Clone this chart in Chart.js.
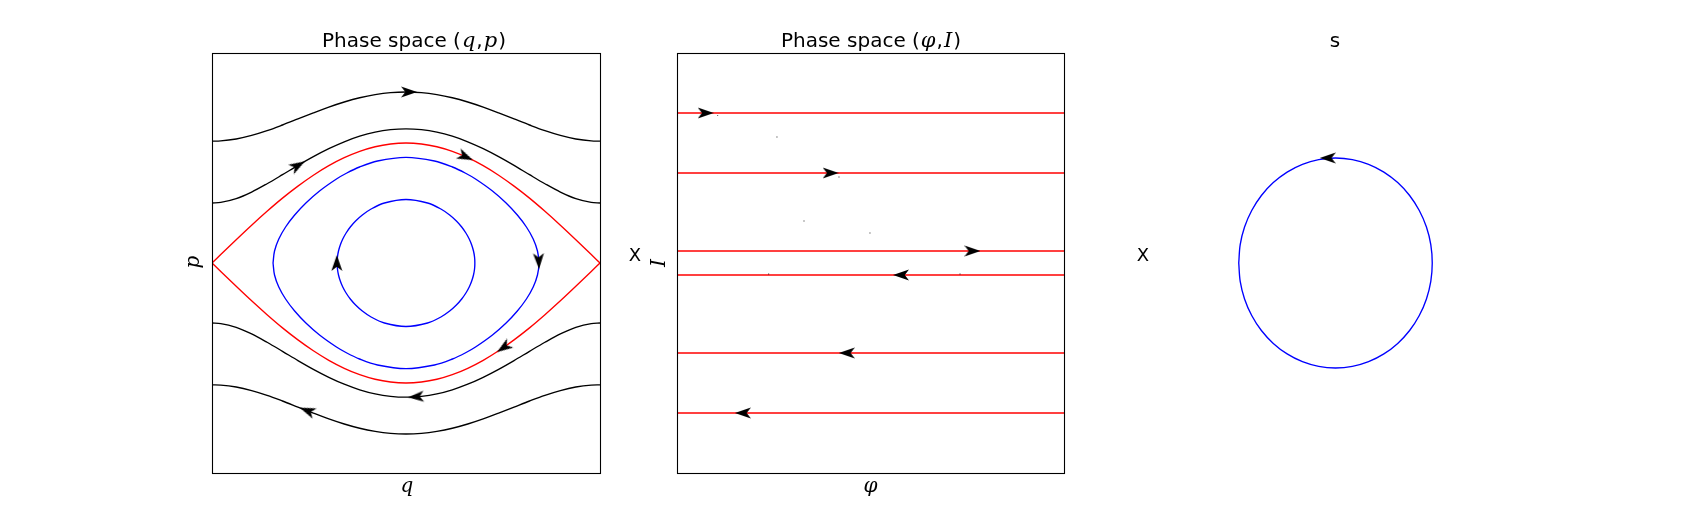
<!DOCTYPE html>
<html><head><meta charset="utf-8">
<script src="https://cdn.jsdelivr.net/npm/chart.js@4.4.1/dist/chart.umd.min.js"></script>
<style>
html,body{margin:0;padding:0;background:#fff;width:1698px;height:525px;overflow:hidden;position:relative;font-family:"DejaVu Sans",sans-serif;color:#000}
canvas{position:absolute;left:0;top:0}
.h{position:absolute;white-space:nowrap;font-size:18px;line-height:18px;transform:translateX(-50%)}
.t{position:absolute;white-space:nowrap;font-size:20px;line-height:20px;transform:translateX(-50%)}
.m{font-family:"DejaVu Serif",serif;font-style:italic;font-size:21px;padding:0 1px}
.lab{position:absolute;white-space:nowrap;font-family:"DejaVu Serif",serif;font-style:italic;font-size:20px;line-height:20px}
.hl{transform:translateX(-50%)}
.r{transform:translate(-50%,-50%) rotate(-90deg)}
</style></head><body>
<canvas id="c1" width="1698" height="525"></canvas>
<canvas id="c2" width="1698" height="525"></canvas>
<canvas id="c3" width="1698" height="525"></canvas>

<div class="t" style="left:414px;top:29.6px">Phase space (<span class="m">q</span>,<span class="m">p</span>)</div>
<div class="t" style="left:871px;top:29.6px">Phase space (<span class="m">φ</span>,<span class="m">I</span>)</div>
<div class="t" style="left:1335px;top:29.6px">s</div>
<div class="lab hl" style="left:407px;top:475px">q</div>
<div class="lab hl" style="left:870.5px;top:475px">φ</div>
<div class="lab r" style="left:191.5px;top:262px">p</div>
<div class="lab r" style="left:657.5px;top:263px">I</div>
<div class="h" style="left:635px;top:246px">X</div>
<div class="h" style="left:1143px;top:246px">X</div>

<script>
// ---------- Panel 1 : phase space (q,p) ----------
const phaseQ       = [-3.1416,-3,-2.75,-2.5,-2.25,-2,-1.75,-1.5,-1.25,-1,-0.75,-0.5,-0.25,0,0.25,0.5,0.75,1,1.25,1.5,1.75,2,2.25,2.5,2.75,3,3.1416];
const pOuterTop    = [2.030,2.035,2.067,2.126,2.205,2.300,2.401,2.502,2.598,2.683,2.754,2.806,2.839,2.850,2.839,2.806,2.754,2.683,2.598,2.502,2.401,2.300,2.205,2.126,2.067,2.035,2.030];
const pInnerTop    = [1.000,1.010,1.073,1.182,1.321,1.472,1.626,1.772,1.905,2.020,2.113,2.181,2.222,2.236,2.222,2.181,2.113,2.020,1.905,1.772,1.626,1.472,1.321,1.182,1.073,1.010,1.000];
const pInnerBottom = [-1.000,-1.010,-1.073,-1.182,-1.321,-1.472,-1.626,-1.772,-1.905,-2.020,-2.113,-2.181,-2.222,-2.236,-2.222,-2.181,-2.113,-2.020,-1.905,-1.772,-1.626,-1.472,-1.321,-1.182,-1.073,-1.010,-1.000];
const pOuterBottom = [-2.030,-2.035,-2.067,-2.126,-2.205,-2.300,-2.401,-2.502,-2.598,-2.683,-2.754,-2.806,-2.839,-2.850,-2.839,-2.806,-2.754,-2.683,-2.598,-2.502,-2.401,-2.300,-2.205,-2.126,-2.067,-2.035,-2.030];

const sepQ      = [-3.1416,-3,-2.75,-2.5,-2.25,-2,-1.75,-1.5,-1.25,-1,-0.75,-0.5,-0.25,0,0.25,0.5,0.75,1,1.25,1.5,1.75,2,2.25,2.5,2.75,3,3.1416];
const sepTop    = [0,0.141,0.389,0.631,0.862,1.081,1.281,1.463,1.622,1.755,1.861,1.938,1.984,2.000,1.984,1.938,1.861,1.755,1.622,1.463,1.281,1.081,0.862,0.631,0.389,0.141,0];
const sepBottom = [0,-0.141,-0.389,-0.631,-0.862,-1.081,-1.281,-1.463,-1.622,-1.755,-1.861,-1.938,-1.984,-2.000,-1.984,-1.938,-1.861,-1.755,-1.622,-1.463,-1.281,-1.081,-0.862,-0.631,-0.389,-0.141,0];

const loopSmallQ = [-1.115,-1.110,-1.093,-1.064,-1.024,-0.970,-0.902,-0.816,-0.707,-0.565,-0.349,0,0.349,0.565,0.707,0.816,0.902,0.970,1.024,1.064,1.093,1.110,1.115,
                    1.110,1.093,1.064,1.024,0.970,0.902,0.816,0.707,0.565,0.349,0,-0.349,-0.565,-0.707,-0.816,-0.902,-0.970,-1.024,-1.064,-1.093,-1.110,-1.115];
const loopSmallP = [0,0.1,0.2,0.3,0.4,0.5,0.6,0.7,0.8,0.9,1.0,1.058,1.0,0.9,0.8,0.7,0.6,0.5,0.4,0.3,0.2,0.1,0,
                    -0.1,-0.2,-0.3,-0.4,-0.5,-0.6,-0.7,-0.8,-0.9,-1.0,-1.058,-1.0,-0.9,-0.8,-0.7,-0.6,-0.5,-0.4,-0.3,-0.2,-0.1,0];
const loopBigQ = [-2.153,-2.129,-2.060,-1.950,-1.803,-1.621,-1.400,-1.126,-0.958,-0.752,-0.461,0,0.461,0.752,0.958,1.126,1.400,1.621,1.803,1.950,2.060,2.129,2.153,
                  2.129,2.060,1.950,1.803,1.621,1.400,1.126,0.958,0.752,0.461,0,-0.461,-0.752,-0.958,-1.126,-1.400,-1.621,-1.803,-1.950,-2.060,-2.129,-2.153];
const loopBigP = [0,0.2,0.4,0.6,0.8,1.0,1.2,1.4,1.5,1.6,1.7,1.761,1.7,1.6,1.5,1.4,1.2,1.0,0.8,0.6,0.4,0.2,0,
                  -0.2,-0.4,-0.6,-0.8,-1.0,-1.2,-1.4,-1.5,-1.6,-1.7,-1.761,-1.7,-1.6,-1.5,-1.4,-1.2,-1.0,-0.8,-0.6,-0.4,-0.2,0];

const arrowQ  = [0.05,-1.75,0.965,2.15,-1.12,1.58,0.16,-1.6];
const arrowP  = [2.85,1.626,1.77,0.03,0,-1.41,-2.23,-2.46];
const arrowDQ = [1,1.626,1.77,0.03,0,-1.41,-2.23,-2.46];
const arrowDP = [0,0.98,-0.82,-0.84,0.9,-1.0,-0.16,1.0];

// ---------- Panel 2 : phase space (phi,I) ----------
const actionLevels = [2.5,1.5,0.2,-0.2,-1.5,-2.5];
const phiRange = [0,6.2832];
const arrowPhi = [0.466,2.495,4.797,3.637,2.758,1.070];
const arrowI   = [2.5,1.5,0.2,-0.2,-1.5,-2.5];
const arrowPhiDir = [1,1,1,-1,-1,-1];
const dotPhi = [0.661,1.623,2.630,2.062,3.133,1.489,4.595];
const dotI   = [2.455,2.10,1.433,0.70,0.50,-0.183,-0.183];

// ---------- Panel 3 : s ----------
const circX = [-1,-0.985,-0.940,-0.866,-0.766,-0.643,-0.5,-0.342,-0.174,0,0.174,0.342,0.5,0.643,0.766,0.866,0.940,0.985,1,
               0.985,0.940,0.866,0.766,0.643,0.5,0.342,0.174,0,-0.174,-0.342,-0.5,-0.643,-0.766,-0.866,-0.940,-0.985,-1];
const circY = [0,-0.174,-0.342,-0.5,-0.643,-0.766,-0.866,-0.940,-0.985,-1,-0.985,-0.940,-0.866,-0.766,-0.643,-0.5,-0.342,-0.174,0,
               0.174,0.342,0.5,0.643,0.766,0.866,0.940,0.985,1,0.985,0.940,0.866,0.766,0.643,0.5,0.342,0.174,0];
const arrowSX = [-0.08], arrowSY = [1.0], arrowSDX = [-1], arrowSDY = [0];

// ---------- helpers ----------
Chart.defaults.font.family = '"DejaVu Sans", sans-serif';
const pts = (xs, ys) => xs.map((x, i) => ({x, y: ys[i]}));

function makeArrow(){
  const c = document.createElement('canvas'); c.width = 16; c.height = 12;
  const g = c.getContext('2d'); g.fillStyle = '#000';
  g.beginPath(); g.moveTo(16,6); g.lineTo(0,0.6); g.lineTo(4.2,6); g.lineTo(0,11.4); g.closePath(); g.fill();
  return c;
}
const arrowImg = makeArrow();

function arrowSet(xs, ys, dxs, dys){
  return {
    data: pts(xs, ys), showLine:false, order:0,
    pointStyle: arrowImg, pointRadius: 8,
    pointRotation: (ctx) => {
      const ch = ctx.chart, i = ctx.dataIndex;
      if (i === undefined || !ch.scales.x) return 0;
      const sx = ch.scales.x, sy = ch.scales.y;
      const e = 1e-3;
      const dx = sx.getPixelForValue(xs[i] + dxs[i]*e) - sx.getPixelForValue(xs[i]);
      const dy = sy.getPixelForValue(ys[i] + dys[i]*e) - sy.getPixelForValue(ys[i]);
      return Math.atan2(dy, dx) * 180 / Math.PI;
    }
  };
}
function lineSet(xs, ys, color, mode){
  const d = {data: pts(xs, ys), showLine:true, borderColor:color, borderWidth:1.35,
    pointRadius:0, fill:false, order:1};
  if (mode === 'mono') { d.cubicInterpolationMode = 'monotone'; }
  else if (mode === 'straight') { d.tension = 0; }
  else { d.tension = 0.34; }
  return d;
}
const framePlugin = (show) => ({
  id:'frame',
  afterDatasetsDraw(chart){
    if (!show) return;
    const a = chart.chartArea, g = chart.ctx;
    g.save(); g.strokeStyle = '#000'; g.lineWidth = 1.1;
    g.strokeRect(a.left + 0.5, a.top + 0.5, a.right - a.left, a.bottom - a.top);
    g.restore();
  }
});
function makeChart(id, left, right, datasets, xr, yr, frame){
  return new Chart(document.getElementById(id), {
    type:'scatter',
    data:{datasets},
    options:{
      responsive:false, animation:false, devicePixelRatio:1,
      layout:{padding:{left, right:1698-right, top:53, bottom:525-473}},
      plugins:{legend:{display:false}, tooltip:{enabled:false}},
      events:[],
      scales:{
        x:{type:'linear', min:xr[0], max:xr[1], display:false},
        y:{type:'linear', min:yr[0], max:yr[1], display:false}
      }
    },
    plugins:[framePlugin(frame)]
  });
}

// Panel 1
makeChart('c1', 212, 600, [
  arrowSet(arrowQ, arrowP, arrowDQ, arrowDP),
  lineSet(phaseQ, pOuterTop, '#000', 'mono'),
  lineSet(phaseQ, pInnerTop, '#000', 'mono'),
  lineSet(phaseQ, pInnerBottom, '#000', 'mono'),
  lineSet(phaseQ, pOuterBottom, '#000', 'mono'),
  lineSet(sepQ, sepTop, '#ff0000', 'mono'),
  lineSet(sepQ, sepBottom, '#ff0000', 'mono'),
  lineSet(loopBigQ, loopBigP, '#0000ff', 'loop'),
  lineSet(loopSmallQ, loopSmallP, '#0000ff', 'loop')
], [-3.1416, 3.1416], [-3.5, 3.5], true);

// Panel 2
const p2sets = [arrowSet(arrowPhi, arrowI, arrowPhiDir, arrowPhiDir.map(() => 0)),
  {data: pts(dotPhi, dotI), showLine:false, pointStyle:'rect', pointRadius:0.6,
   backgroundColor:'#000', borderColor:'#000', borderWidth:0, order:0}];
actionLevels.forEach(I => p2sets.push(lineSet(phiRange, [I, I], '#ff0000', 'straight')));
makeChart('c2', 677, 1064, p2sets, [0, 6.2832], [-3.5, 3.5], true);

// Panel 3
makeChart('c3', 1142, 1529, [
  arrowSet(arrowSX, arrowSY, arrowSDX, arrowSDY),
  lineSet(circX, circY, '#0000ff', 'loop')
], [-2, 2], [-2, 2], false);
</script>
</body></html>
